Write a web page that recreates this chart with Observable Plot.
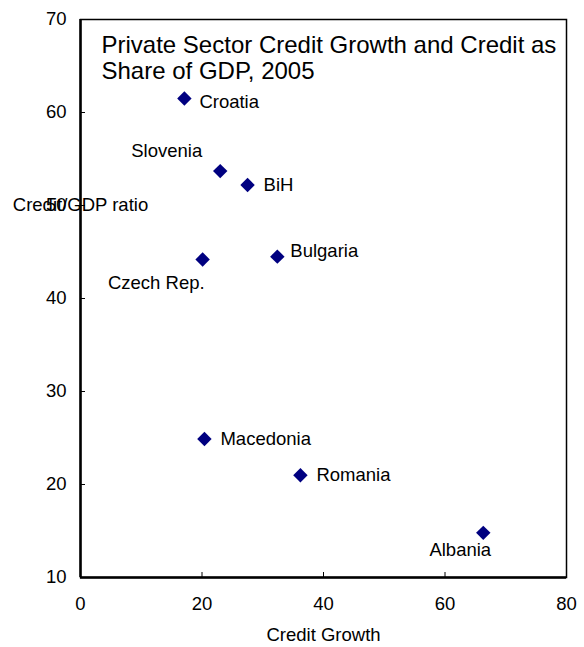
<!DOCTYPE html>
<html>
<head>
<meta charset="utf-8">
<script src="https://cdn.jsdelivr.net/npm/d3@7"></script>
<script src="https://cdn.jsdelivr.net/npm/@observablehq/plot@0.6"></script>
<style>
  body { margin: 0; background: #fff; }
  svg { font-family: Arial, "Liberation Sans", sans-serif; }
</style>
</head>
<body>
<div id="chart"></div>
<script>
const countries = ["Croatia", "Slovenia", "BiH", "Czech Rep.", "Bulgaria", "Macedonia", "Romania", "Albania"];
const creditGrowth = [17.1, 23.0, 27.5, 20.1, 32.4, 20.4, 36.2, 66.3];
const creditGDP = [61.5, 53.7, 52.2, 44.2, 44.5, 24.9, 21.0, 14.8];
const xTicks = [0, 20, 40, 60, 80];
const yTicks = [10, 20, 30, 40, 50, 60, 70];
const titleText = "Private Sector Credit Growth and Credit as\nShare of GDP, 2005";
const xLabel = "Credit Growth";
const yLabel = "Credit/GDP ratio";

const data = countries.map((c, i) => ({name: c, x: creditGrowth[i], y: creditGDP[i]}));
const rightLabels = ["BiH", "Macedonia", "Romania"];
const navy = "#000080";
const fs = 18.5;
const lbl = (names, opts) => Plot.text(data.filter(d => names.includes(d.name)), {x: "x", y: "y", text: "name", fontSize: fs, fill: "#000", ...opts});

const chart = Plot.plot({
  width: 584,
  height: 647,
  marginLeft: 80,
  marginRight: 18,
  marginTop: 19,
  marginBottom: 70,
  style: {fontSize: fs + "px", fontFamily: "Arial, 'Liberation Sans', sans-serif", color: "#000", background: "#fff"},
  x: {domain: [0, 80], ticks: xTicks},
  y: {domain: [10, 70], ticks: yTicks},
  marks: [
    Plot.frame({stroke: "#000", strokeWidth: 1.5}),
    Plot.axisX({ticks: xTicks, tickSize: -5, tickPadding: 24, label: null, fontSize: fs, tickFormat: d => d}),
    Plot.axisY({ticks: yTicks, tickSize: -5, tickPadding: 19, label: null, fontSize: fs, tickFormat: d => d}),
    Plot.ruleX([0], {stroke: "#000", strokeWidth: 2.5}),
    Plot.ruleY([10], {stroke: "#000", strokeWidth: 2.5}),
    Plot.text([xLabel], {frameAnchor: "bottom", dy: 63, fontSize: fs, fill: "#000"}),
    Plot.text([yLabel], {x: 0, y: 50, fontSize: fs, fill: "#000"}),
    Plot.text([titleText], {frameAnchor: "top-left", dx: 21, dy: 15, textAnchor: "start", lineAnchor: "top", lineHeight: 1.08, fontSize: 24, fill: "#000"}),
    Plot.dot(data, {x: "x", y: "y", symbol: "diamond2", r: 6.5, fill: navy, stroke: "none"}),
    lbl(rightLabels, {textAnchor: "start", dx: 16}),
    lbl(["Croatia"], {textAnchor: "start", dx: 15, dy: 4}),
    lbl(["Bulgaria"], {textAnchor: "start", dx: 13, dy: -6}),
    lbl(["Slovenia"], {textAnchor: "end", dx: -18, dy: -20}),
    lbl(["Czech Rep."], {textAnchor: "end", dx: 2, dy: 24}),
    lbl(["Albania"], {textAnchor: "middle", dx: -23, dy: 17})
  ]
});
document.getElementById("chart").appendChild(chart);
</script>
</body>
</html>
